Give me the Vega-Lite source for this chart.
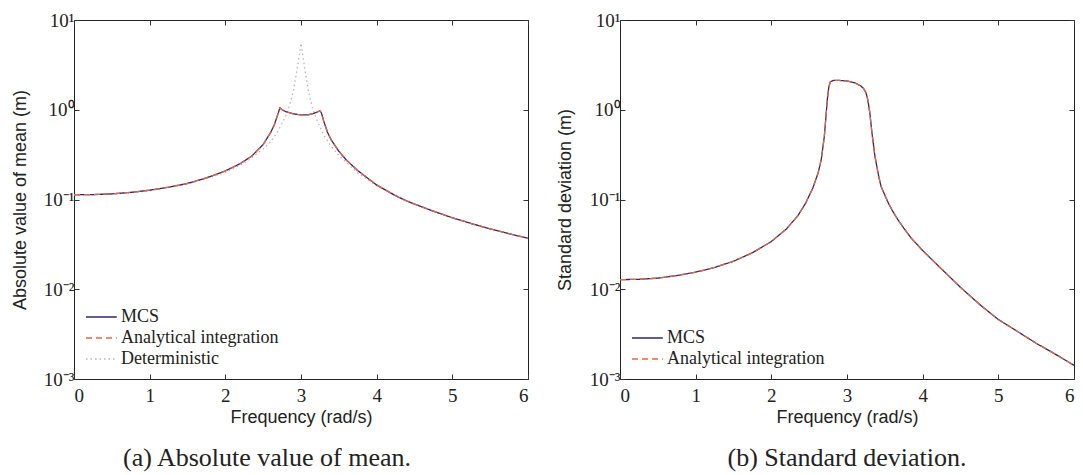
{
  "$schema": "https://vega.github.io/schema/vega-lite/v6.json",
  "background": "white",
  "padding": {"left": 11, "top": 10, "right": 2, "bottom": 2},
  "spacing": 26,
  "config": {
    "view": {"stroke": "#222", "strokeWidth": 1},
    "axis": {"domain": false, "grid": false, "ticks": true, "tickColor": "#333", "tickSize": -5, "tickWidth": 1,
             "labelFont": "Liberation Serif", "labelFontSize": 19, "labelColor": "#222",
             "titleFont": "Liberation Sans", "titleFontSize": 18, "titleFontWeight": "normal", "titleColor": "#222"},
    "legend": {"orient": "bottom-left", "offset": 11, "symbolType": "M-1,0L1.8,0", "symbolSize": 484, "symbolStrokeWidth": 1.3,
               "labelFont": "Liberation Serif", "labelFontSize": 18, "labelColor": "#222", "rowPadding": 0, "padding": 0, "labelOffset": 12, "title": null}
  },
  "resolve": {"scale": {"color": "independent", "strokeDash": "independent"}},
  "hconcat": [
    {
      "width": 454, "height": 359,
      "title": {"text": "(a)  Absolute value of mean.", "orient": "bottom", "font": "Liberation Serif", "fontSize": 26, "fontWeight": "normal", "color": "#222", "offset": 19, "frame": "group", "anchor": "middle", "dx": -34},
      "data": {"values": [
        {"f":0,"v":0.1111,"s":"Deterministic"},{"f":0.5,"v":0.1143,"s":"Deterministic"},{"f":1,"v":0.125,"s":"Deterministic"},{"f":1.5,"v":0.1481,"s":"Deterministic"},{"f":2,"v":0.2,"s":"Deterministic"},{"f":2.25,"v":0.254,"s":"Deterministic"},{"f":2.5,"v":0.3636,"s":"Deterministic"},{"f":2.6,"v":0.4386,"s":"Deterministic"},{"f":2.7,"v":0.585,"s":"Deterministic"},{"f":2.8,"v":0.86,"s":"Deterministic"},{"f":2.85,"v":1.13,"s":"Deterministic"},{"f":2.9,"v":1.62,"s":"Deterministic"},{"f":2.95,"v":2.88,"s":"Deterministic"},{"f":3.0,"v":5.5,"s":"Deterministic"},{"f":3.05,"v":2.85,"s":"Deterministic"},{"f":3.1,"v":1.58,"s":"Deterministic"},{"f":3.15,"v":1.06,"s":"Deterministic"},{"f":3.2,"v":0.8,"s":"Deterministic"},{"f":3.3,"v":0.524,"s":"Deterministic"},{"f":3.4,"v":0.391,"s":"Deterministic"},{"f":3.5,"v":0.308,"s":"Deterministic"},{"f":3.75,"v":0.1975,"s":"Deterministic"},{"f":4,"v":0.1429,"s":"Deterministic"},{"f":4.5,"v":0.0889,"s":"Deterministic"},{"f":5,"v":0.0625,"s":"Deterministic"},{"f":5.5,"v":0.0471,"s":"Deterministic"},{"f":6,"v":0.037,"s":"Deterministic"},

        {"f":0,"v":0.113,"s":"MCS"},{"f":0.25,"v":0.1135,"s":"MCS"},{"f":0.5,"v":0.1155,"s":"MCS"},{"f":0.75,"v":0.12,"s":"MCS"},{"f":1,"v":0.127,"s":"MCS"},{"f":1.25,"v":0.137,"s":"MCS"},{"f":1.5,"v":0.151,"s":"MCS"},{"f":1.75,"v":0.174,"s":"MCS"},{"f":2,"v":0.208,"s":"MCS"},{"f":2.2,"v":0.252,"s":"MCS"},{"f":2.35,"v":0.305,"s":"MCS"},{"f":2.5,"v":0.41,"s":"MCS"},{"f":2.6,"v":0.56,"s":"MCS"},{"f":2.65,"v":0.69,"s":"MCS"},{"f":2.7,"v":0.92,"s":"MCS"},{"f":2.72,"v":1.05,"s":"MCS"},{"f":2.75,"v":1.0,"s":"MCS"},{"f":2.8,"v":0.95,"s":"MCS"},{"f":2.9,"v":0.9,"s":"MCS"},{"f":3.0,"v":0.875,"s":"MCS"},{"f":3.1,"v":0.88,"s":"MCS"},{"f":3.2,"v":0.93,"s":"MCS"},{"f":3.25,"v":0.975,"s":"MCS"},{"f":3.27,"v":0.92,"s":"MCS"},{"f":3.3,"v":0.75,"s":"MCS"},{"f":3.35,"v":0.56,"s":"MCS"},{"f":3.4,"v":0.46,"s":"MCS"},{"f":3.5,"v":0.345,"s":"MCS"},{"f":3.6,"v":0.275,"s":"MCS"},{"f":3.75,"v":0.21,"s":"MCS"},{"f":3.9,"v":0.168,"s":"MCS"},{"f":4,"v":0.145,"s":"MCS"},{"f":4.1,"v":0.13,"s":"MCS"},{"f":4.25,"v":0.11,"s":"MCS"},{"f":4.4,"v":0.096,"s":"MCS"},{"f":4.5,"v":0.089,"s":"MCS"},{"f":4.75,"v":0.074,"s":"MCS"},{"f":5,"v":0.0626,"s":"MCS"},{"f":5.25,"v":0.054,"s":"MCS"},{"f":5.5,"v":0.047,"s":"MCS"},{"f":5.75,"v":0.0415,"s":"MCS"},{"f":6,"v":0.037,"s":"MCS"},

        {"f":0,"v":0.113,"s":"Analytical integration"},{"f":0.25,"v":0.1135,"s":"Analytical integration"},{"f":0.5,"v":0.1155,"s":"Analytical integration"},{"f":0.75,"v":0.12,"s":"Analytical integration"},{"f":1,"v":0.127,"s":"Analytical integration"},{"f":1.25,"v":0.137,"s":"Analytical integration"},{"f":1.5,"v":0.151,"s":"Analytical integration"},{"f":1.75,"v":0.174,"s":"Analytical integration"},{"f":2,"v":0.208,"s":"Analytical integration"},{"f":2.2,"v":0.252,"s":"Analytical integration"},{"f":2.35,"v":0.305,"s":"Analytical integration"},{"f":2.5,"v":0.41,"s":"Analytical integration"},{"f":2.6,"v":0.56,"s":"Analytical integration"},{"f":2.65,"v":0.69,"s":"Analytical integration"},{"f":2.7,"v":0.92,"s":"Analytical integration"},{"f":2.72,"v":1.05,"s":"Analytical integration"},{"f":2.75,"v":1.0,"s":"Analytical integration"},{"f":2.8,"v":0.95,"s":"Analytical integration"},{"f":2.9,"v":0.9,"s":"Analytical integration"},{"f":3.0,"v":0.875,"s":"Analytical integration"},{"f":3.1,"v":0.88,"s":"Analytical integration"},{"f":3.2,"v":0.93,"s":"Analytical integration"},{"f":3.25,"v":0.975,"s":"Analytical integration"},{"f":3.27,"v":0.92,"s":"Analytical integration"},{"f":3.3,"v":0.75,"s":"Analytical integration"},{"f":3.35,"v":0.56,"s":"Analytical integration"},{"f":3.4,"v":0.46,"s":"Analytical integration"},{"f":3.5,"v":0.345,"s":"Analytical integration"},{"f":3.6,"v":0.275,"s":"Analytical integration"},{"f":3.75,"v":0.21,"s":"Analytical integration"},{"f":3.9,"v":0.168,"s":"Analytical integration"},{"f":4,"v":0.145,"s":"Analytical integration"},{"f":4.1,"v":0.13,"s":"Analytical integration"},{"f":4.25,"v":0.11,"s":"Analytical integration"},{"f":4.4,"v":0.096,"s":"Analytical integration"},{"f":4.5,"v":0.089,"s":"Analytical integration"},{"f":4.75,"v":0.074,"s":"Analytical integration"},{"f":5,"v":0.0626,"s":"Analytical integration"},{"f":5.25,"v":0.054,"s":"Analytical integration"},{"f":5.5,"v":0.047,"s":"Analytical integration"},{"f":5.75,"v":0.0415,"s":"Analytical integration"},{"f":6,"v":0.037,"s":"Analytical integration"}
      ]},
      "layer": [
        {
          "mark": {"type": "line", "strokeWidth": 1.3, "clip": true},
          "encoding": {
            "x": {"field": "f", "type": "quantitative", "scale": {"domain": [0, 6], "nice": false},
                  "axis": {"orient": "bottom", "values": [0,1,2,3,4,5,6], "title": "Frequency (rad/s)", "labelPadding": 12, "titleY": 43, "titleBaseline": "alphabetic"}},
            "y": {"field": "v", "type": "quantitative", "scale": {"type": "log", "domain": [0.001, 10], "nice": false},
                  "axis": {"orient": "left", "values": [0.001,0.01,0.1,1,10], "labelPadding": 5,
                           "labelExpr": "datum.value >= 5 ? '10¹' : datum.value >= 0.5 ? '10⁰' : datum.value >= 0.05 ? '10⁻¹' : datum.value >= 0.005 ? '10⁻²' : '10⁻³'",
                           "title": "Absolute value of mean (m)", "titleX": -53.5, "titleBaseline": "middle"}},
            "color": {"field": "s", "type": "nominal",
                      "scale": {"domain": ["MCS", "Analytical integration", "Deterministic"], "range": ["#2a2a72", "#e4683f", "#b8b4c8"]}},
            "strokeDash": {"field": "s", "type": "nominal",
                      "scale": {"domain": ["MCS", "Analytical integration", "Deterministic"], "range": [[1, 0], [6, 4], [1.5, 3]]}}
          }
        },
        {
          "mark": {"type": "line", "opacity": 0},
          "encoding": {
            "x": {"field": "f", "type": "quantitative", "axis": {"orient": "top", "values": [0,1,2,3,4,5,6], "labels": false, "title": null}},
            "y": {"field": "v", "type": "quantitative", "scale": {"type": "log"}, "axis": {"orient": "right", "values": [0.001,0.01,0.1,1,10], "labels": false, "title": null}}
          }
        }
      ]
    },
    {
      "width": 454, "height": 359,
      "title": {"text": "(b)  Standard deviation.", "orient": "bottom", "font": "Liberation Serif", "fontSize": 26, "fontWeight": "normal", "color": "#222", "offset": 19, "frame": "group", "anchor": "middle", "dx": 0},
      "data": {"values": [
        {"f":0,"v":0.0128,"s":"MCS"},{"f":0.25,"v":0.0129,"s":"MCS"},{"f":0.5,"v":0.0133,"s":"MCS"},{"f":0.75,"v":0.0142,"s":"MCS"},{"f":1,"v":0.0155,"s":"MCS"},{"f":1.25,"v":0.0175,"s":"MCS"},{"f":1.5,"v":0.0205,"s":"MCS"},{"f":1.75,"v":0.0255,"s":"MCS"},{"f":2,"v":0.034,"s":"MCS"},{"f":2.2,"v":0.047,"s":"MCS"},{"f":2.35,"v":0.066,"s":"MCS"},{"f":2.45,"v":0.09,"s":"MCS"},{"f":2.55,"v":0.135,"s":"MCS"},{"f":2.62,"v":0.2,"s":"MCS"},{"f":2.66,"v":0.28,"s":"MCS"},{"f":2.7,"v":0.5,"s":"MCS"},{"f":2.72,"v":0.8,"s":"MCS"},{"f":2.74,"v":1.3,"s":"MCS"},{"f":2.76,"v":1.8,"s":"MCS"},{"f":2.78,"v":2.05,"s":"MCS"},{"f":2.82,"v":2.12,"s":"MCS"},{"f":2.9,"v":2.12,"s":"MCS"},{"f":3.0,"v":2.09,"s":"MCS"},{"f":3.1,"v":2.0,"s":"MCS"},{"f":3.18,"v":1.85,"s":"MCS"},{"f":3.22,"v":1.72,"s":"MCS"},{"f":3.25,"v":1.55,"s":"MCS"},{"f":3.27,"v":1.35,"s":"MCS"},{"f":3.3,"v":0.95,"s":"MCS"},{"f":3.33,"v":0.55,"s":"MCS"},{"f":3.37,"v":0.3,"s":"MCS"},{"f":3.42,"v":0.18,"s":"MCS"},{"f":3.45,"v":0.14,"s":"MCS"},{"f":3.5,"v":0.112,"s":"MCS"},{"f":3.55,"v":0.09,"s":"MCS"},{"f":3.6,"v":0.075,"s":"MCS"},{"f":3.67,"v":0.06,"s":"MCS"},{"f":3.75,"v":0.048,"s":"MCS"},{"f":3.85,"v":0.037,"s":"MCS"},{"f":4,"v":0.027,"s":"MCS"},{"f":4.25,"v":0.0168,"s":"MCS"},{"f":4.5,"v":0.0105,"s":"MCS"},{"f":4.75,"v":0.0068,"s":"MCS"},{"f":5,"v":0.0046,"s":"MCS"},{"f":5.25,"v":0.0034,"s":"MCS"},{"f":5.5,"v":0.0025,"s":"MCS"},{"f":5.75,"v":0.0019,"s":"MCS"},{"f":6,"v":0.00142,"s":"MCS"},

        {"f":0,"v":0.0128,"s":"Analytical integration"},{"f":0.25,"v":0.0129,"s":"Analytical integration"},{"f":0.5,"v":0.0133,"s":"Analytical integration"},{"f":0.75,"v":0.0142,"s":"Analytical integration"},{"f":1,"v":0.0155,"s":"Analytical integration"},{"f":1.25,"v":0.0175,"s":"Analytical integration"},{"f":1.5,"v":0.0205,"s":"Analytical integration"},{"f":1.75,"v":0.0255,"s":"Analytical integration"},{"f":2,"v":0.034,"s":"Analytical integration"},{"f":2.2,"v":0.047,"s":"Analytical integration"},{"f":2.35,"v":0.066,"s":"Analytical integration"},{"f":2.45,"v":0.09,"s":"Analytical integration"},{"f":2.55,"v":0.135,"s":"Analytical integration"},{"f":2.62,"v":0.2,"s":"Analytical integration"},{"f":2.66,"v":0.28,"s":"Analytical integration"},{"f":2.7,"v":0.5,"s":"Analytical integration"},{"f":2.72,"v":0.8,"s":"Analytical integration"},{"f":2.74,"v":1.3,"s":"Analytical integration"},{"f":2.76,"v":1.8,"s":"Analytical integration"},{"f":2.78,"v":2.05,"s":"Analytical integration"},{"f":2.82,"v":2.12,"s":"Analytical integration"},{"f":2.9,"v":2.12,"s":"Analytical integration"},{"f":3.0,"v":2.09,"s":"Analytical integration"},{"f":3.1,"v":2.0,"s":"Analytical integration"},{"f":3.18,"v":1.85,"s":"Analytical integration"},{"f":3.22,"v":1.72,"s":"Analytical integration"},{"f":3.25,"v":1.55,"s":"Analytical integration"},{"f":3.27,"v":1.35,"s":"Analytical integration"},{"f":3.3,"v":0.95,"s":"Analytical integration"},{"f":3.33,"v":0.55,"s":"Analytical integration"},{"f":3.37,"v":0.3,"s":"Analytical integration"},{"f":3.42,"v":0.18,"s":"Analytical integration"},{"f":3.45,"v":0.14,"s":"Analytical integration"},{"f":3.5,"v":0.112,"s":"Analytical integration"},{"f":3.55,"v":0.09,"s":"Analytical integration"},{"f":3.6,"v":0.075,"s":"Analytical integration"},{"f":3.67,"v":0.06,"s":"Analytical integration"},{"f":3.75,"v":0.048,"s":"Analytical integration"},{"f":3.85,"v":0.037,"s":"Analytical integration"},{"f":4,"v":0.027,"s":"Analytical integration"},{"f":4.25,"v":0.0168,"s":"Analytical integration"},{"f":4.5,"v":0.0105,"s":"Analytical integration"},{"f":4.75,"v":0.0068,"s":"Analytical integration"},{"f":5,"v":0.0046,"s":"Analytical integration"},{"f":5.25,"v":0.0034,"s":"Analytical integration"},{"f":5.5,"v":0.0025,"s":"Analytical integration"},{"f":5.75,"v":0.0019,"s":"Analytical integration"},{"f":6,"v":0.00142,"s":"Analytical integration"}
      ]},
      "layer": [
        {
          "mark": {"type": "line", "strokeWidth": 1.3, "clip": true},
          "encoding": {
            "x": {"field": "f", "type": "quantitative", "scale": {"domain": [0, 6], "nice": false},
                  "axis": {"orient": "bottom", "values": [0,1,2,3,4,5,6], "title": "Frequency (rad/s)", "labelPadding": 12, "titleY": 43, "titleBaseline": "alphabetic"}},
            "y": {"field": "v", "type": "quantitative", "scale": {"type": "log", "domain": [0.001, 10], "nice": false},
                  "axis": {"orient": "left", "values": [0.001,0.01,0.1,1,10], "labelPadding": 5,
                           "labelExpr": "datum.value >= 5 ? '10¹' : datum.value >= 0.5 ? '10⁰' : datum.value >= 0.05 ? '10⁻¹' : datum.value >= 0.005 ? '10⁻²' : '10⁻³'",
                           "title": "Standard deviation (m)", "titleX": -55, "titleBaseline": "middle"}},
            "color": {"field": "s", "type": "nominal",
                      "scale": {"domain": ["MCS", "Analytical integration"], "range": ["#2a2a72", "#e4683f"]}},
            "strokeDash": {"field": "s", "type": "nominal",
                      "scale": {"domain": ["MCS", "Analytical integration"], "range": [[1, 0], [6, 4]]}}
          }
        },
        {
          "mark": {"type": "line", "opacity": 0},
          "encoding": {
            "x": {"field": "f", "type": "quantitative", "axis": {"orient": "top", "values": [0,1,2,3,4,5,6], "labels": false, "title": null}},
            "y": {"field": "v", "type": "quantitative", "scale": {"type": "log"}, "axis": {"orient": "right", "values": [0.001,0.01,0.1,1,10], "labels": false, "title": null}}
          }
        }
      ]
    }
  ]
}
